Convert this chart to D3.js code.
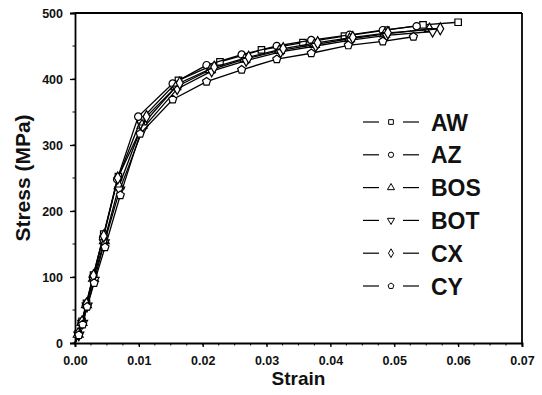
<!DOCTYPE html>
<html>
<head>
<meta charset="utf-8">
<script src="https://d3js.org/d3.v7.min.js"></script>
<style>
  body {margin:0; background:#fff;}
  svg {display:block;}
  text {font-family:'Liberation Sans',Arial,sans-serif; font-weight:bold; fill:#111;}
</style>
</head>
<body>
<svg id="chart"></svg>
<script>
// series (strain, stress in MPa)
const names=['AW','AZ','BOS','BOT','CX','CY'];
const symbols=['square','circle','triangle','triangleDown','diamond','pentagon'];
const strainAW=[0,0.0005,0.0011,0.0018,0.0029,0.0045,0.0068,0.0103,0.0162,0.0227,0.0292,0.0357,0.0422,0.0487,0.0545,0.0600];
const stressAW=[0,14,33,60,103,165,252,338,398,426,444,455,465,474,482,486];
const strainAZ=[0,0.0005,0.0010,0.0017,0.0028,0.0044,0.0066,0.0099,0.0153,0.0206,0.0261,0.0316,0.0370,0.0430,0.0482,0.0535];
const stressAZ=[0,12,30,57,100,160,248,343,393,421,437,450,459,467,474,480];
const strainBOS=[0,0.0005,0.0011,0.0018,0.0029,0.0046,0.0069,0.0105,0.0158,0.0212,0.0266,0.0320,0.0375,0.0430,0.0485,0.0555];
const stressBOS=[0,13,31,58,98,155,238,330,388,414,430,443,452,461,468,476];
const strainBOT=[0,0.0006,0.0012,0.0019,0.0030,0.0046,0.0070,0.0107,0.0160,0.0214,0.0268,0.0322,0.0377,0.0432,0.0488,0.0560];
const stressBOT=[0,12,30,56,95,152,232,326,385,412,428,441,450,459,466,472];
const strainCX=[0,0.0005,0.0011,0.0018,0.0029,0.0045,0.0067,0.0112,0.0164,0.0218,0.0272,0.0326,0.0380,0.0435,0.0490,0.0572];
const stressCX=[0,14,32,59,102,162,250,343,394,418,433,446,455,463,470,476];
const strainCY=[0,0.0006,0.0012,0.0019,0.0030,0.0047,0.0071,0.0102,0.0153,0.0206,0.0261,0.0316,0.0370,0.0428,0.0482,0.0530];
const stressCY=[0,12,28,55,91,145,224,317,369,396,414,430,439,451,457,464];
const strains=[strainAW,strainAZ,strainBOS,strainBOT,strainCX,strainCY];
const stresses=[stressAW,stressAZ,stressBOS,stressBOT,stressCX,stressCY];
const xTicks=[0,0.01,0.02,0.03,0.04,0.05,0.06,0.07];
const yTicks=[0,100,200,300,400,500];

const W=542,H=395;
const margin={top:13,right:20,bottom:52,left:75};
const x=d3.scaleLinear().domain([0,0.07]).range([margin.left,W-margin.right]);
const y=d3.scaleLinear().domain([0,500]).range([H-margin.bottom,margin.top]);

const svg=d3.select('#chart').attr('width',W).attr('height',H);

// custom symbol types
const triDown={draw(ctx,size){
  const h=Math.sqrt(size*4/Math.sqrt(3))/2;
  ctx.moveTo(-h,-h*0.58); ctx.lineTo(h,-h*0.58); ctx.lineTo(0,h*1.15); ctx.closePath();}};
const penta={draw(ctx,size){
  const r=Math.sqrt(size/2.38);
  for(let i=0;i<5;i++){const a=-Math.PI/2+i*2*Math.PI/5;
    i?ctx.lineTo(r*Math.cos(a),r*Math.sin(a)):ctx.moveTo(r*Math.cos(a),r*Math.sin(a));}
  ctx.closePath();}};
const symType={square:d3.symbolSquare,circle:d3.symbolCircle,triangle:d3.symbolTriangle,
  triangleDown:triDown,diamond:d3.symbolDiamond,pentagon:penta};

// axes
const xMinor=d3.range(0,0.0701,0.0025);
const yMinor=d3.range(0,501,50);
const g=svg.append('g');
g.selectAll('.xm').data(xMinor).join('line')
  .attr('x1',d=>x(d)).attr('x2',d=>x(d)).attr('y1',y(0)).attr('y2',y(0)+2.5)
  .attr('stroke','#000').attr('stroke-width',1);
g.selectAll('.ym').data(yMinor).join('line')
  .attr('y1',d=>y(d)).attr('y2',d=>y(d)).attr('x1',x(0)).attr('x2',x(0)-2.5)
  .attr('stroke','#000').attr('stroke-width',1);

const xAxis=svg.append('g').attr('transform','translate(0,'+y(0)+')')
  .call(d3.axisBottom(x).tickValues(xTicks).tickFormat(d3.format('.2f')).tickSize(4).tickPadding(9));
const yAxis=svg.append('g').attr('transform','translate('+x(0)+',0)')
  .call(d3.axisLeft(y).tickValues(yTicks).tickSize(5).tickPadding(7));
[xAxis,yAxis].forEach(a=>{
  a.select('.domain').attr('stroke','#000').attr('stroke-width',1.8);
  a.selectAll('.tick line').attr('stroke','#000').attr('stroke-width',1.3);
  a.selectAll('.tick text').style('font-size','12.5px').attr('fill','#111');
});
// frame top/right
svg.append('line').attr('x1',x(0)).attr('x2',x(0.07)).attr('y1',y(500)).attr('y2',y(500))
  .attr('stroke','#000').attr('stroke-width',1.8);
svg.append('line').attr('x1',x(0.07)).attr('x2',x(0.07)).attr('y1',y(500)).attr('y2',y(0))
  .attr('stroke','#000').attr('stroke-width',1.8);

// curves
const line=d3.line().x(d=>x(d[0])).y(d=>y(d[1]));
names.forEach((n,i)=>{
  const pts=strains[i].map((s,j)=>[s,stresses[i][j]]);
  svg.append('path').datum(pts).attr('d',line)
    .attr('fill','none').attr('stroke','#000').attr('stroke-width',1.3);
  svg.append('g').selectAll('path').data(pts.filter(p=>p[1]>0)).join('path')
    .attr('transform',p=>'translate('+x(p[0])+','+y(p[1])+')')
    .attr('d',d3.symbol().type(symType[symbols[i]]).size(42))
    .attr('fill','#fff').attr('stroke','#000').attr('stroke-width',1.2);
});

// legend
const leg=svg.append('g').attr('transform','translate(363,122)');
names.forEach((n,i)=>{
  const r=leg.append('g').attr('transform','translate(0,'+(i*32.8)+')');
  r.append('line').attr('x1',0).attr('x2',16).attr('stroke','#000').attr('stroke-width',1.2);
  r.append('line').attr('x1',40).attr('x2',56).attr('stroke','#000').attr('stroke-width',1.2);
  r.append('path').attr('transform','translate(28,0)')
    .attr('d',d3.symbol().type(symType[symbols[i]]).size(22))
    .attr('fill','#fff').attr('stroke','#000').attr('stroke-width',1);
  r.append('text').attr('x',68).attr('y',8.5).style('font-size','23px').text(n);
});

// axis titles
svg.append('text').attr('x',(x(0)+x(0.07))/2).attr('y',385)
  .attr('text-anchor','middle').style('font-size','19px').text('Strain');
svg.append('text').attr('transform','translate(30,'+(y(250))+') rotate(-90)')
  .attr('text-anchor','middle').style('font-size','21px').text('Stress (MPa)');
</script>
</body>
</html>
